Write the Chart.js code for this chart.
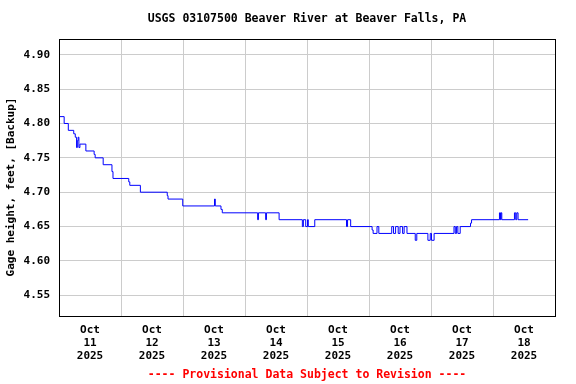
<!DOCTYPE html>
<html>
<head>
<meta charset="utf-8">
<script src="https://cdn.jsdelivr.net/npm/chart.js@4"></script>
<style>
    html, body { margin: 0; padding: 0; background: #fff; }
    #wrap { width: 576px; height: 384px; }
</style>
</head>
<body>
<div id="wrap"><canvas id="gageChart"></canvas></div>
<script>
const siteTitle = 'USGS 03107500 Beaver River at Beaver Falls, PA';
const footNote = '---- Provisional Data Subject to Revision ----';
const yAxisTitle = 'Gage height, feet, [Backup]';

const monthLabel = 'Oct';
const yearLabel = '2025';
const dayLabels = ['11', '12', '13', '14', '15', '16', '17', '18'];
const yTicks = [4.55, 4.60, 4.65, 4.70, 4.75, 4.80, 4.85, 4.90];

// hours since Oct 11 00:00, each point starts a new level
const hours = [
    0, 2.0, 3.6, 5.7, 6.3, 6.8, 7.1, 7.4, 7.7, 8.1,
    10.4, 13.6, 14.0, 17.1, 20.5, 20.9, 27.0, 27.4, 31.5, 41.9,
    42.2, 47.9, 60.2, 60.5, 62.7, 63.2, 76.9, 77.2, 80.0, 80.3,
    85.2, 94.2, 94.6, 95.5, 96.2, 96.5, 99.0, 111.3, 111.7, 112.9,
    121.2, 121.6, 123.1, 123.8, 128.8, 129.5, 130.3, 131.3, 132.0, 133.0,
    133.6, 134.7, 137.9, 138.5, 142.8, 143.7, 144.2, 145.2, 152.9, 153.4,
    153.9, 154.4, 155.3, 159.3, 159.7, 170.5, 170.9, 171.1, 171.4, 176.3,
    176.8, 177.2, 177.7, 181.6
];
const gageHeight = [
    4.81, 4.80, 4.79, 4.785, 4.78, 4.765, 4.775, 4.78, 4.765, 4.77,
    4.76, 4.755, 4.75, 4.74, 4.73, 4.72, 4.715, 4.71, 4.70, 4.695,
    4.69, 4.68, 4.69, 4.68, 4.675, 4.67, 4.66, 4.67, 4.66, 4.67,
    4.66, 4.65, 4.66, 4.65, 4.66, 4.65, 4.66, 4.65, 4.66, 4.65,
    4.645, 4.64, 4.65, 4.64, 4.65, 4.64, 4.65, 4.64, 4.65, 4.64,
    4.65, 4.64, 4.63, 4.64, 4.63, 4.64, 4.63, 4.64, 4.65, 4.64,
    4.65, 4.64, 4.65, 4.655, 4.66, 4.67, 4.66, 4.67, 4.66, 4.67,
    4.66, 4.67, 4.66, 4.66
];

class GageChart {
    constructor(canvasId) {
        this.canvas = document.getElementById(canvasId);
        this.chart = null;
        this.fontFamily = '"DejaVu Sans Mono", monospace';
    }

    init() {
        this.chart = new Chart(this.canvas, {
            type: 'line',
            data: {
                datasets: [{
                    data: hours.map((h, i) => ({ x: h, y: gageHeight[i] })),
                    borderColor: '#0000ff',
                    borderWidth: 1,
                    pointRadius: 0,
                    stepped: true,
                    fill: false
                }]
            },
            options: this.buildOptions(),
            plugins: [this.framePlugin()]
        });
    }

    buildOptions() {
        const axisFont = { family: this.fontFamily, size: 11, weight: 'bold' };
        const textFont = { family: this.fontFamily, size: 11.5, weight: 'bold' };
        const tickHours = [];
        for (let i = 0; i <= dayLabels.length * 2; i++) tickHours.push(i * 12);

        return {
            responsive: true,
            maintainAspectRatio: false,
            devicePixelRatio: 1,
            animation: false,
            events: [],
            layout: { padding: { left: 0, right: 21, top: 0, bottom: 0 } },
            plugins: {
                legend: { display: false },
                tooltip: { enabled: false },
                title: {
                    display: true,
                    text: siteTitle,
                    fullSize: false,
                    color: '#000',
                    font: textFont,
                    padding: { top: 12.1, bottom: 13.4 }
                },
                subtitle: {
                    display: true,
                    text: footNote,
                    position: 'bottom',
                    fullSize: false,
                    color: '#ff0000',
                    font: textFont,
                    padding: { top: 0, bottom: 2.1 }
                }
            },
            scales: {
                x: {
                    type: 'linear',
                    min: 0,
                    max: dayLabels.length * 24,
                    afterBuildTicks: s => { s.ticks = tickHours.map(v => ({ value: v })); },
                    afterFit: s => { s.height = 52.2; },
                    border: { display: false },
                    grid: {
                        drawTicks: false,
                        color: c => (c.tick && c.tick.value % 24 === 0) ? '#cccccc' : 'rgba(0,0,0,0)'
                    },
                    ticks: {
                        autoSkip: false,
                        maxRotation: 0,
                        padding: 7.4,
                        color: '#000',
                        font: axisFont,
                        callback: v => v % 24 === 12 ? [monthLabel, dayLabels[(v - 12) / 24], yearLabel] : ''
                    }
                },
                y: {
                    min: 4.52,
                    max: 4.9225,
                    afterBuildTicks: s => { s.ticks = yTicks.map(v => ({ value: v })); },
                    afterFit: s => { s.width = 59; },
                    border: { display: false },
                    grid: { drawTicks: false, color: '#cccccc' },
                    ticks: {
                        padding: 9,
                        color: '#000',
                        font: axisFont,
                        callback: v => v.toFixed(2)
                    }
                }
            }
        };
    }

    // black box round the plot and the rotated y title
    framePlugin() {
        const family = this.fontFamily;
        return {
            id: 'frame',
            afterDraw(chart) {
                const { ctx, chartArea: a } = chart;
                ctx.save();
                ctx.strokeStyle = '#000';
                ctx.lineWidth = 1;
                ctx.strokeRect(Math.floor(a.left) + 0.5, Math.floor(a.top) + 0.5,
                    Math.round(a.right - a.left), Math.round(a.bottom - a.top));

                ctx.translate(11, 187);
                ctx.rotate(-Math.PI / 2);
                ctx.fillStyle = '#000';
                ctx.font = 'bold 11px ' + family;
                ctx.textAlign = 'center';
                ctx.textBaseline = 'middle';
                ctx.fillText(yAxisTitle, 0, 0);
                ctx.restore();
            }
        };
    }
}

new GageChart('gageChart').init();
</script>
</body>
</html>
